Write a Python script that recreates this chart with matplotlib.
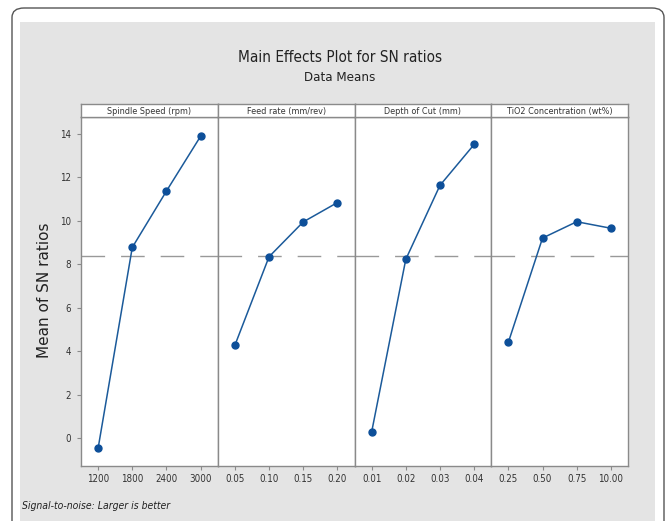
import matplotlib
matplotlib.use("Agg")
import matplotlib.pyplot as plt
from matplotlib.patches import FancyBboxPatch, Rectangle
import numpy as np

# factors and levels
factors = ["Spindle Speed (rpm)", "Feed rate (mm/rev)", "Depth of Cut (mm)", "TiO2 Concentration (wt%)"]
levels_spindle = ["1200", "1800", "2400", "3000"]
levels_feed = ["0.05", "0.10", "0.15", "0.20"]
levels_depth = ["0.01", "0.02", "0.03", "0.04"]
levels_tio2 = ["0.25", "0.50", "0.75", "10.00"]

# mean SN ratios
sn_spindle = [-0.46, 8.77, 11.36, 13.88]
sn_feed = [4.27, 8.34, 9.94, 10.83]
sn_depth = [0.28, 8.22, 11.62, 13.50]
sn_tio2 = [4.41, 9.20, 9.95, 9.65]

levels = [levels_spindle, levels_feed, levels_depth, levels_tio2]
means = [sn_spindle, sn_feed, sn_depth, sn_tio2]
grand_mean = np.mean(sn_spindle + sn_feed + sn_depth + sn_tio2)

W, H = 670, 521
fig = plt.figure(figsize=(W/100, H/100), dpi=100)
fig.patch.set_facecolor("white")

def box(x0, y0, x1, y1):
    # pixel box (top-left origin) -> figure fraction rect
    return [x0/W, 1 - y1/H, (x1-x0)/W, (y1-y0)/H]

# rounded frame and grey background (behind the axes)
fig.patches.append(FancyBboxPatch((12/W, -0.05), (664-12)/W, 1.05 - 8/H,
                                  boxstyle="round,pad=0,rounding_size=0.018",
                                  transform=fig.transFigure, fc="white", ec="#555555", lw=1.0, zorder=-2))
fig.patches.append(Rectangle((20/W, 0), (655-20)/W, 1 - 22/H, transform=fig.transFigure,
                             fc="#e4e4e4", ec="none", zorder=-1))

cf = dict(family="DejaVu Sans", fontstretch="condensed")
fig.text(340/W, 1 - 57/H, "Main Effects Plot for SN ratios", ha="center", va="center",
         fontsize=11, color="#222222", **cf)
fig.text(340/W, 1 - 78/H, "Data Means", ha="center", va="center",
         fontsize=9.5, color="#222222", **cf)

left, right, top, bottom = 81, 628, 117, 466
pw = (right - left) / 4
line_c = "#1b5a9a"
edge_c = "#8a8a8a"

for i in range(4):
    x0 = left + i*pw
    ax = fig.add_axes(box(x0, top, x0 + pw, bottom))
    ax.set_facecolor("white")
    xs = np.arange(4)
    ax.plot(xs, means[i], color=line_c, lw=1.1, marker="o", ms=5, mfc="#0d4f99", mec="#0d4f99", zorder=3)
    ax.axhline(grand_mean, color="#999999", lw=1.0, dashes=(17, 11.5), zorder=2)
    ax.set_xlim(-0.5, 3.5)
    ax.set_ylim(-1.27, 14.76)
    ax.set_xticks(xs)
    ax.set_xticklabels(levels[i], fontsize=7, color="#333333", **cf)
    ax.set_yticks(range(0, 15, 2))
    if i == 0:
        ax.set_yticklabels([str(v) for v in range(0, 15, 2)], fontsize=7, color="#333333", **cf)
        ax.tick_params(axis="y", length=3, color=edge_c, pad=4)
    else:
        ax.tick_params(axis="y", left=False, labelleft=False)
    ax.tick_params(axis="x", length=3, color=edge_c, pad=3)
    for s in ax.spines.values():
        s.set_color(edge_c)
        s.set_linewidth(1.0)

    # strip with factor name
    sx = fig.add_axes(box(x0, 104, x0 + pw, top))
    sx.set_facecolor("white")
    sx.set_xticks([])
    sx.set_yticks([])
    for s in sx.spines.values():
        s.set_color(edge_c)
        s.set_linewidth(1.0)
    sx.text(0.5, 0.45, factors[i], ha="center", va="center", fontsize=6.5,
            color="#333333", transform=sx.transAxes, **cf)

fig.text(45/W, 1 - 290/H, "Mean of SN ratios", rotation=90, ha="center", va="center",
         fontsize=11, color="#222222")
fig.text(22/W, 1 - 506/H, "Signal-to-noise: Larger is better", ha="left", va="center",
         fontsize=7.5, style="italic", color="#222222", **cf)

fig.savefig("out.png", dpi=100)
